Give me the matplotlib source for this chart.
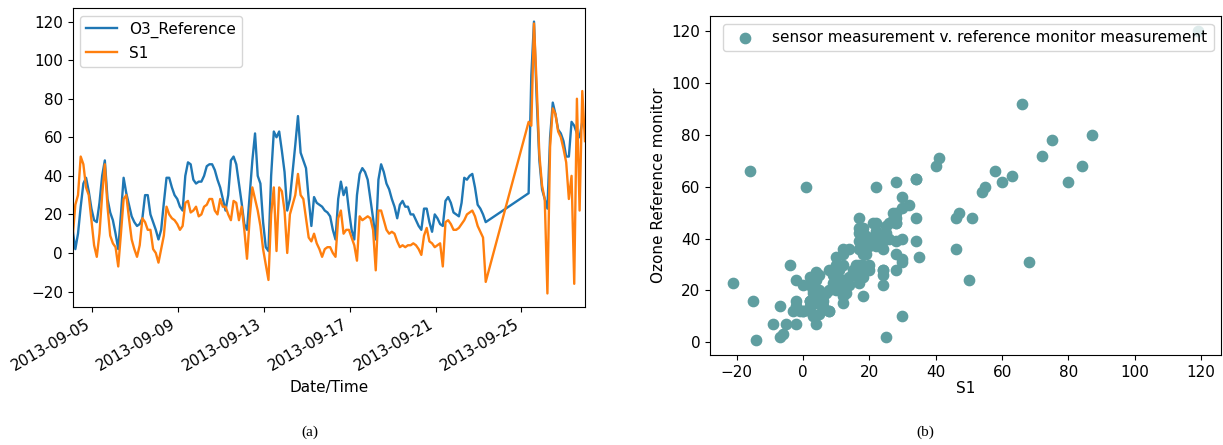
import numpy as np
import pandas as pd
import matplotlib
matplotlib.use("Agg")
import matplotlib.pyplot as plt
import matplotlib.dates as mdates

nan = np.nan
plt.rcParams["font.size"] = 11

# readings every 3 hours starting 2013-09-04 02:00 (gap = missing rows)
start_time = "2013-09-04 02:00"
step = "3h"

o3_reference = [
    12, 2, 10, 24, 36, 39, 32, 23,
    17, 16, 26, 40, 48, 28, 21, 17,
    10, 2, 20, 39, 31, 25, 19, 16,
    14, 15, 18, 30, 30, 20, 16, 12,
    7, 12, 26, 39, 39, 34, 30, 28,
    24, 22, 40, 47, 46, 38, 36, 37,
    37, 40, 45, 46, 46, 43, 38, 34,
    28, 22, 30, 48, 50, 46, 36, 26,
    15, 12, 30, 48, 62, 40, 36, 16,
    3, 1, 40, 63, 60, 63, 53, 42,
    22, 28, 42, 56, 71, 52, 48, 44,
    28, 14, 29, 26, 25, 24, 22, 21,
    19, 12, 7, 28, 37, 30, 34, 22,
    12, 7, 30, 41, 44, 42, 38, 28,
    18, 7, 38, 46, 42, 36, 33, 28,
    24, 18, 25, 27, 24, 24, 20, 20,
    17, 14, 12, 23, 23, 16, 11, 20,
    18, 15, 14, 27, 29, 26, 21, 20,
    19, 26, 39, 38, 40, 41, 34, 25,
    23, 20, 16, nan, nan, nan, nan, nan,
    nan, nan, nan, nan, nan, nan, nan, nan,
    nan, nan, 31, 92, 120, 80, 48, 33,
    28, 23, 60, 78, 72, 64, 62, 58,
    50, 50, 68, 66, 62, 60, 68, 66,
]

s1 = [
    8, 25, 30, 50, 46, 34, 30, 17,
    4, -2, 10, 30, 46, 24, 9, 5,
    3, -7, 10, 28, 30, 18, 7, 2,
    -2, 4, 18, 16, 12, 12, 2, 0,
    -5, 2, 9, 24, 20, 18, 17, 15,
    12, 14, 26, 27, 21, 22, 24, 19,
    20, 24, 25, 28, 28, 22, 20, 28,
    24, 24, 20, 17, 27, 26, 17, 24,
    12, -3, 18, 34, 28, 22, 14, 2,
    -6, -14, 20, 34, 1, 34, 32, 22,
    0, 20, 25, 30, 41, 30, 28, 18,
    8, 6, 10, 5, 2, -2, 2, 3,
    3, 0, -2, 18, 22, 10, 12, 12,
    8, 4, -4, 19, 17, 18, 19, 18,
    12, -9, 22, 22, 17, 12, 10, 11,
    10, 6, 3, 4, 3, 4, 4, 5,
    4, 2, -1, 9, 13, 6, 5, 3,
    4, 5, -7, 16, 17, 15, 12, 12,
    13, 15, 17, 20, 21, 22, 19, 14,
    11, 8, -15, nan, nan, nan, nan, nan,
    nan, nan, nan, nan, nan, nan, nan, nan,
    nan, nan, 68, 66, 119, 87, 51, 35,
    28, -21, 55, 75, 72, 63, 60, 54,
    47, 28, 40, -16, 80, 22, 84, 58,
]

times = pd.date_range(start_time, periods=len(o3_reference), freq=step)
df = pd.DataFrame({"O3_Reference": o3_reference, "S1": s1}, index=times).dropna()

fig = plt.figure(figsize=(12.23, 4.45), dpi=100)

# (a) time series
ax1 = fig.add_axes([0.0594, 0.310, 0.4189, 0.672])
ax1.plot(df.index, df["O3_Reference"], color="#1f77b4", lw=1.7, label="O3_Reference")
ax1.plot(df.index, df["S1"], color="#ff7f0e", lw=1.7, label="S1")
ax1.set_xlim(df.index[0], df.index[-1])
ax1.xaxis.set_major_locator(mdates.DayLocator(bymonthday=[5, 9, 13, 17, 21, 25]))
ax1.xaxis.set_major_formatter(mdates.DateFormatter("%Y-%m-%d"))
plt.setp(ax1.get_xticklabels(), rotation=30, ha="right")
ax1.set_xlabel("Date/Time")
ax1.legend(loc="upper left")

# (b) scatter
ax2 = fig.add_axes([0.5805, 0.2022, 0.4180, 0.7618])
ax2.scatter(df["S1"], df["O3_Reference"], s=55, color="cadetblue",
            label="sensor measurement v. reference monitor measurement")
ax2.set_xlabel("S1", labelpad=1)
ax2.set_ylabel("Ozone Reference monitor")
ax2.legend(loc="upper right")

fig.text(310 / 1223, 1 - 432 / 445, "(a)", ha="center", va="center",
         family="Liberation Serif", fontsize=11)
fig.text(925 / 1223, 1 - 432 / 445, "(b)", ha="center", va="center",
         family="Liberation Serif", fontsize=11)

fig.savefig("out.png", dpi=100)
